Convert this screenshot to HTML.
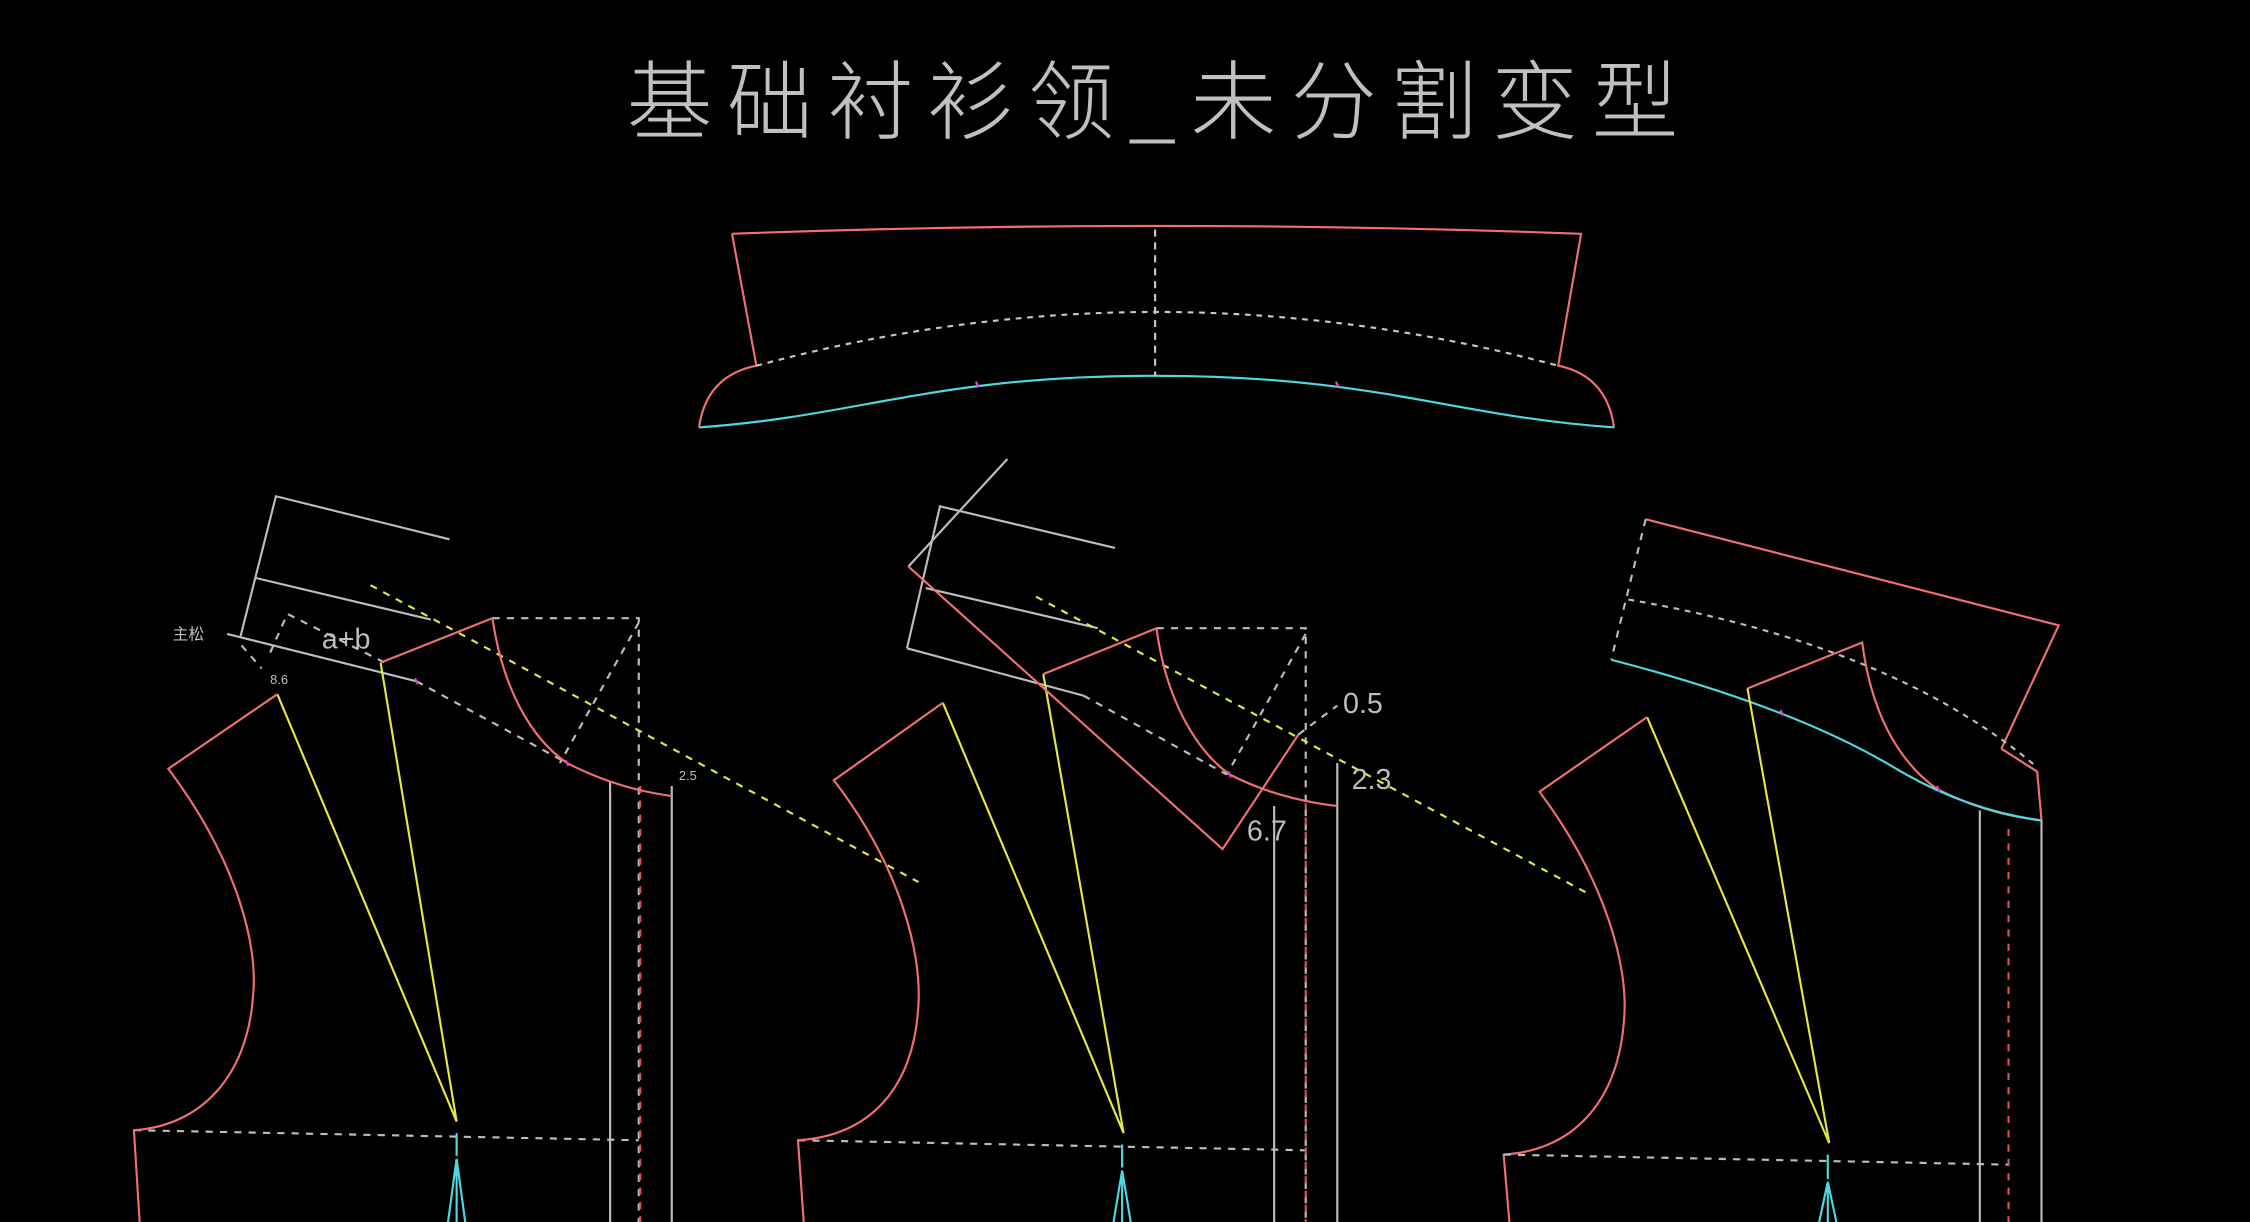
<!DOCTYPE html>
<html><head><meta charset="utf-8"><style>
html,body{margin:0;padding:0;background:#000;width:2250px;height:1222px;overflow:hidden}
svg{display:block}
text{font-family:"Liberation Sans","Noto Sans CJK SC",sans-serif}
</style></head><body>
<svg width="2250" height="1222" viewBox="0 0 1568 852" xmlns="http://www.w3.org/2000/svg">
<rect width="1568" height="852" fill="#000"/>
<text x="808" y="92" text-anchor="middle" font-size="60" fill="#c0c0c0" letter-spacing="10" style="font-family:'Noto Sans CJK SC','WenQuanYi Zen Hei',sans-serif;font-weight:200">基础衬衫领_未分割变型</text>

<g fill="none" stroke-width="1.5">
<!-- top collar -->
<path d="M510,163 Q805,152 1102,163 L1086,255 Q1120,262 1125,298" stroke="#f07070"/>
<path d="M510,163 L527,255 Q492,262 487,298" stroke="#f07070"/>
<path d="M487,298 C600,290 650,262 805,262 C960,262 1010,290 1125,298" stroke="#50d8e0"/>
<path d="M527,255 Q805,180 1086,255" stroke="#c8c8c8" stroke-dasharray="4,4"/>
<line x1="805" y1="160" x2="805" y2="262" stroke="#c8c8c8" stroke-dasharray="5,4"/>
<path d="M680,266 l2,4 M931,266 l2,4" stroke="#e040e0"/>

<!-- panel 1 -->
<g stroke="#bdbdbd">
<path d="M313,376 L192,346 L167,445"/>
<path d="M178,403 L300,432"/>
<path d="M158,442 L290,475"/>
</g>
<g stroke="#bdbdbd" stroke-dasharray="5,5">
<path d="M290,475 L395,532"/>
<path d="M343,431 L445,431 L445,852"/>
<path d="M445,434 L390,532"/>
<path d="M188,455 L200,428 L268,462"/>
<path d="M168,450 L182,466"/>
<path d="M93,788 L445,795"/>
</g>
<path d="M446,548 L446,852" stroke="#e05050" stroke-dasharray="5,5"/>
<path d="M425,545 L425,852 M468,548 L468,852" stroke="#bdbdbd"/>
<path d="M258,408 L640,615" stroke="#e6e645" stroke-dasharray="5,5"/>
<path d="M193,484 L318,782 L265,462" stroke="#e6e645"/>
<path d="M265,462 L343,431 C350,480 370,515 395,532 Q430,550 468,555" stroke="#f07070"/>
<path d="M193,484 L117,536 C165,600 180,660 176,695 C172,750 140,785 93,788 L97,852" stroke="#f07070"/>
<path d="M318,790 L318,806 M318,808 L312,852 M318,808 L324,852 M318,808 L318,852" stroke="#50d8e0"/>
<path d="M289,473 l2,4 M394,530 l2,4" stroke="#e040e0"/>

<!-- panel 2 -->
<g stroke="#bdbdbd">
<path d="M777,382 L655,353 L632,452"/>
<path d="M645,410 L765,438"/>
<path d="M632,452 L755,485"/>
<path d="M702,320 L633,395"/>
</g>
<g stroke="#bdbdbd" stroke-dasharray="5,5">
<path d="M755,485 L855,540"/>
<path d="M806,438 L910,438 L910,852"/>
<path d="M910,442 L855,540"/>
<path d="M556,795 L910,802"/>
<path d="M905,512 L932,492"/>
</g>
<path d="M910,560 L910,852" stroke="#e05050" stroke-dasharray="5,5"/>
<path d="M888,562 L888,852 M932,532 L932,852" stroke="#bdbdbd"/>
<path d="M722,416 L1105,622" stroke="#e6e645" stroke-dasharray="5,5"/>
<path d="M657,490 L783,790 L727,470" stroke="#e6e645"/>
<path d="M633,395 L852,592 L905,512" stroke="#f07070"/>
<path d="M727,470 L806,438 C812,485 832,522 857,540 Q890,557 932,562" stroke="#f07070"/>
<path d="M657,490 L581,544 C628,605 642,665 640,700 C637,760 605,792 556,795 L560,852" stroke="#f07070"/>
<path d="M782,798 L782,814 M782,816 L776,852 M782,816 L788,852 M782,816 L782,852" stroke="#50d8e0"/>
<path d="M856,538 l2,4" stroke="#e040e0"/>

<!-- panel 3 -->
<path d="M1147,362 L1435,436 L1395,522 M1395,522 L1420,538 L1423,572" stroke="#f07070"/>
<path d="M1147,362 L1123,460" stroke="#bdbdbd" stroke-dasharray="5,5"/>
<path d="M1135,418 Q1320,450 1420,535" stroke="#bdbdbd" stroke-dasharray="4,4"/>
<path d="M1218,480 L1298,448 C1304,495 1322,530 1350,550 Q1385,568 1423,572" stroke="#f07070"/>
<path d="M1123,460 C1200,480 1270,505 1320,535 Q1370,565 1423,572" stroke="#50d8e0"/>
<path d="M1148,500 L1275,797 L1218,480" stroke="#e6e645"/>
<path d="M1148,500 L1073,552 C1120,615 1135,675 1132,710 C1128,770 1095,802 1048,805 L1052,852" stroke="#f07070"/>
<g stroke="#bdbdbd" stroke-dasharray="5,5"><path d="M1048,805 L1400,812"/></g>
<path d="M1400,578 L1400,852" stroke="#e05050" stroke-dasharray="5,5"/>
<path d="M1380,565 L1380,852 M1423,572 L1423,852" stroke="#bdbdbd"/>
<path d="M1274,805 L1274,822 M1274,824 L1268,852 M1274,824 L1280,852 M1274,824 L1274,852" stroke="#50d8e0"/>
<path d="M1241,495 l2,4 M1350,548 l2,4" stroke="#e040e0"/>
</g>

<g fill="#bdbdbd">
<text x="120" y="446" font-size="11" style="font-family:'Noto Sans CJK SC',sans-serif">主松</text>
<text x="224" y="452" font-size="20">a+b</text>
<text x="188" y="477" font-size="9">8.6</text>
<text x="473" y="544" font-size="9">2.5</text>
<text x="936" y="497" font-size="20">0.5</text>
<text x="942" y="550" font-size="20">2.3</text>
<text x="869" y="586" font-size="20">6.7</text>
</g>
</svg>
</body></html>
